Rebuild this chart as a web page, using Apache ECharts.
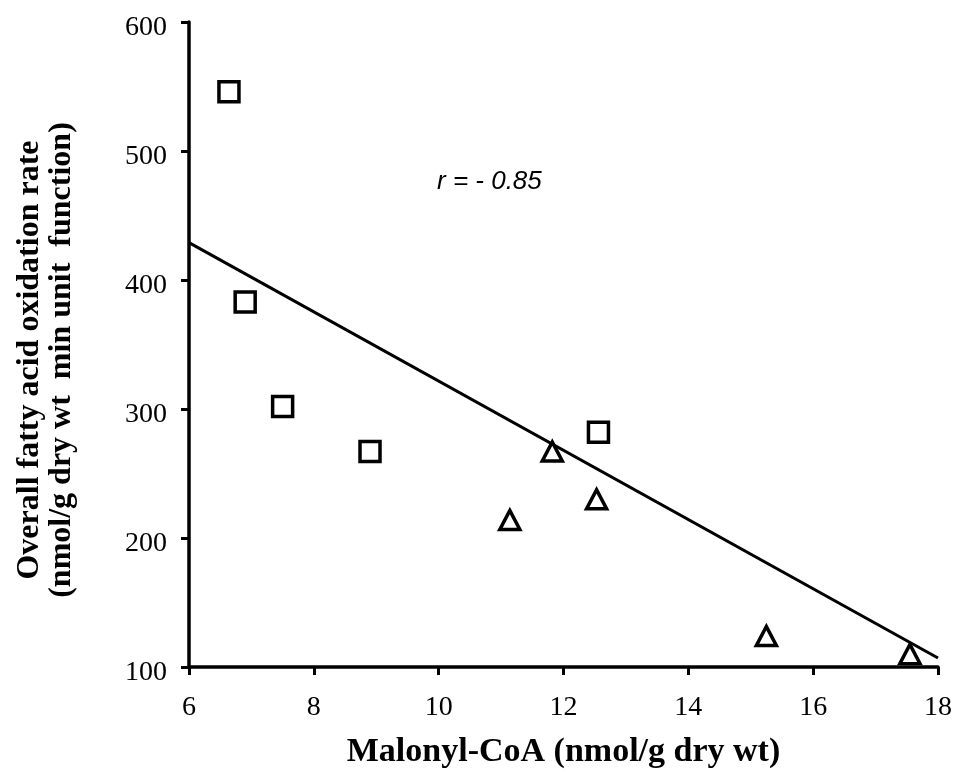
<!DOCTYPE html>
<html><head><meta charset="utf-8">
<script src="https://cdn.jsdelivr.net/npm/echarts@6/dist/echarts.min.js"></script>
<style>html,body{margin:0;padding:0;background:#fff}#c{width:957px;height:774px}</style>
</head><body><div id="c"></div>
<script>
const squareX = [6.64, 6.9, 7.5, 8.9, 12.56];
const squareY = [546, 383, 302, 267, 282];
const triangleX = [11.14, 11.82, 12.53, 15.25, 17.55];
const triangleY = [214, 267, 230, 124, 110];
const fitX = [6, 18];
const fitY = [429, 107];
const xTicks = [6, 8, 10, 12, 14, 16, 18];
const yTicks = [100, 200, 300, 400, 500, 600];
const rText = 'r = - 0.85';
const xTitle = 'Malonyl-CoA (nmol/g dry wt)';
const yTitle = 'Overall fatty acid oxidation rate\n(nmol/g dry wt  min unit  function)';

const zip = (a, b) => a.map((v, i) => [v, b[i]]);
const chart = echarts.init(document.getElementById('c'));
const serif = '"Liberation Serif", "DejaVu Serif", serif';
chart.setOption({
  backgroundColor: '#fff',
  animation: false,
  grid: {left: 189, right: 19, top: 22, bottom: 107},
  xAxis: {
    type: 'value', min: xTicks[0], max: xTicks[xTicks.length - 1], interval: 2,
    name: xTitle, nameLocation: 'middle', nameGap: 68,
    nameTextStyle: {fontFamily: serif, fontWeight: 'bold', fontSize: 34, color: '#000'},
    axisLine: {lineStyle: {color: '#000', width: 3.5}},
    axisTick: {inside: false, length: 8, lineStyle: {color: '#000', width: 3}},
    axisLabel: {fontFamily: serif, fontSize: 28, color: '#000', margin: 27},
    splitLine: {show: false}
  },
  yAxis: {
    type: 'value', min: yTicks[0], max: yTicks[yTicks.length - 1], interval: 100,
    axisLine: {lineStyle: {color: '#000', width: 3.5}},
    axisTick: {inside: false, length: 8, lineStyle: {color: '#000', width: 3}},
    axisLabel: {fontFamily: serif, fontSize: 28, color: '#000', margin: 22,
                verticalAlign: 'top', lineHeight: 12},
    splitLine: {show: false}
  },
  graphic: [{
    type: 'text', left: 437, top: 169,
    style: {text: rText, font: 'italic 26px "Liberation Sans", sans-serif', fill: '#000'}
  }, {
    type: 'text', x: 46, y: 360, rotation: Math.PI / 2,
    style: {text: yTitle, font: 'bold 32px "Liberation Serif", serif', fill: '#000',
            textAlign: 'center', textVerticalAlign: 'middle', lineHeight: 32}
  }],
  series: [
    {type: 'line', data: zip(fitX, fitY), symbol: 'none',
     lineStyle: {color: '#000', width: 3}, z: 1},
    {type: 'scatter', data: zip(squareX, squareY), symbol: 'rect', symbolSize: 20,
     itemStyle: {color: '#fff', borderColor: '#000', borderWidth: 3.5, opacity: 1}, z: 3},
    {type: 'scatter', data: zip(triangleX, triangleY), symbol: 'triangle', symbolSize: [20, 19],
     itemStyle: {color: '#fff', borderColor: '#000', borderWidth: 3.5, opacity: 1}, z: 3}
  ]
});
</script></body></html>
